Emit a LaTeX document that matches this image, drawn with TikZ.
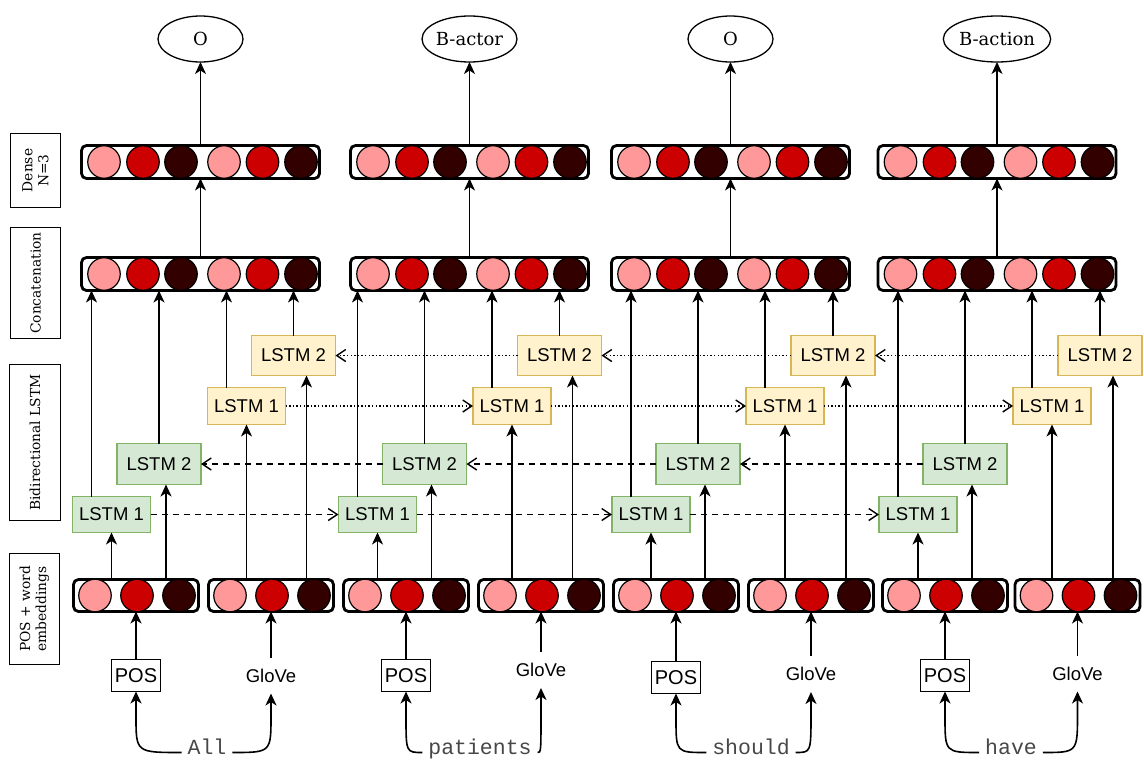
\documentclass[tikz,border=0pt]{standalone}
\usepackage{fontspec}
\setmainfont{DejaVu Serif}
\newfontfamily\lsans{Liberation Sans}
\newfontfamily\lmono{Liberation Mono}
\usetikzlibrary{arrows.meta,shapes.geometric,calc}

\definecolor{gfill}{HTML}{D5E8D4}
\definecolor{gline}{HTML}{82B366}
\definecolor{yfill}{HTML}{FFF2CC}
\definecolor{yline}{HTML}{D6B656}
\definecolor{cpink}{HTML}{FF9999}
\definecolor{cred}{HTML}{CC0000}
\definecolor{cdark}{HTML}{330000}

\tikzset{
  every node/.style={inner sep=0pt, outer sep=0pt},
  lstmfont/.style={font=\lsans\fontsize{18.5}{20}\selectfont},
  gone/.style={draw=gline, fill=gfill, line width=1.4pt, minimum width=78, minimum height=36, lstmfont},
  gtwo/.style={draw=gline, fill=gfill, line width=1.4pt, minimum width=84, minimum height=41, lstmfont},
  yone/.style={draw=yline, fill=yfill, line width=1.4pt, minimum width=78, minimum height=37, lstmfont},
  ytwo/.style={draw=yline, fill=yfill, line width=1.4pt, minimum width=84, minimum height=40, lstmfont},
  vec/.style={draw, rounded corners=5pt, line width=2.8pt, minimum width=238, minimum height=33},
  emb/.style={draw, rounded corners=5pt, line width=2.8pt, minimum width=125, minimum height=32},
  circ/.style={circle, draw, line width=1.2pt, minimum size=32.5, fill=#1},
  outlab/.style={ellipse, draw, line width=1.3pt, minimum width=85, minimum height=46,
    font=\fontsize{18}{20}\selectfont},
  sidelab/.style={draw, line width=1.3pt, rotate=90, align=center,
    font=\fontsize{13.8}{16}\selectfont},
  posbox/.style={draw, line width=1.3pt, minimum width=49, minimum height=32,
    font=\lsans\fontsize{20}{22}\selectfont},
  glovebox/.style={minimum width=60, minimum height=36, lstmfont},
  word/.style={font=\lmono\fontsize{21.5}{24}\selectfont, text=black!72,
    inner xsep=6pt, text height=0.62em, text depth=0.2em},
  arr/.style={line width=1.6pt, -{Stealth[length=12pt,width=11pt,inset=3.5pt]}},
  dashconn/.style={line width=1.4pt, dash pattern=on 6pt off 5pt,
    -{Straight Barb[length=9pt,width=12pt,line width=1.4pt]}},
  dotconn/.style={line width=1.4pt, dash pattern=on 1.4pt off 2.2pt,
    -{Straight Barb[length=9pt,width=12pt,line width=1.4pt]}},
}

\begin{document}
\begin{tikzpicture}[x=1pt,y=-1pt]
\useasboundingbox (0,0) rectangle (1144,763);

% layer names on the left
\node[sidelab, minimum width=74, minimum height=50] (labdense) at (35.5,170.5) {Dense\\N=3};
\node[sidelab, minimum width=111, minimum height=50] (labcat) at (35.5,283) {Concatenation};
\node[sidelab, minimum width=156, minimum height=51] (lablstm) at (35,442.5) {Bidirectional LSTM};
\node[sidelab, minimum width=111, minimum height=50] (labemb) at (34.5,609) {POS + word\\embeddings};

% one column per token
\foreach \i/\c/\ga/\gb/\ya/\yb/\ea/\eb/\py/\gy/\wx/\word/\lab in {
  1/200.5/111.5/159/246.5/293.5/136/271/675.5/675.5/207/All/O,
  2/469.5/377.5/424.5/512/559.5/406/541/675.5/670/480/patients/B-actor,
  3/730.5/651/698/785/833/676/811/677.5/674/751/should/O,
  4/997/918/965/1052/1100/945/1077.5/675.5/673.5/1011/have/B-action}
{
  % output tag
  \node[outlab] (out\i) at (\c,39) {\lab};

  % dense and concatenation vectors
  \node[vec] (dense\i) at (\c,162) {};
  \node[vec] (cat\i) at (\c,274) {};
  \foreach \k/\dx/\col in {1/-96.5/cpink,2/-57.5/cred,3/-19.5/cdark,4/23.5/cpink,5/62/cred,6/100.5/cdark}{
    \node[circ=\col] (dense\i-\k) at (\c+\dx,162) {};
    \node[circ=\col] (cat\i-\k) at (\c+\dx,274) {};
  }

  % embedding vectors (POS and word)
  \node[emb] (embA\i) at (\ea,595.5) {};
  \node[emb] (embB\i) at (\eb,595.5) {};
  \foreach \k/\dx/\col in {1/-41/cpink,2/1/cred,3/43/cdark}{
    \node[circ=\col] (embA\i-\k) at (\ea+\dx,595.5) {};
    \node[circ=\col] (embB\i-\k) at (\eb+\dx,595.5) {};
  }

  % LSTM cells
  \node[gone] (ga\i) at (\ga,514.5) {LSTM 1};
  \node[gtwo] (gb\i) at (\gb,464) {LSTM 2};
  \node[yone] (ya\i) at (\ya,406) {LSTM 1};
  \node[ytwo] (yb\i) at (\yb,355.5) {LSTM 2};

  % inputs
  \node[posbox] (pos\i) at (\ea,\py) {POS};
  \node[glovebox] (glove\i) at (\eb,\gy) {GloVe};
  \node[word] (word\i) at (\wx,752.5) {\word};

  % word to features
  \draw[arr] (word\i.west) .. controls (pos\i.south |- word\i.west) .. ($(pos\i.south)+(0,25)$) -- (pos\i.south);
  \draw[arr] (word\i.east) .. controls (glove\i.south |- word\i.east) .. ($(glove\i.south)+(0,22)$) -- (glove\i.south);
  \draw[arr] (pos\i.north) -- (pos\i |- embA\i.south);
  \draw[arr] (glove\i.north) -- (glove\i |- embB\i.south);

  % embeddings into the LSTM cells
  \coordinate (gbin\i) at ([xshift=7pt]gb\i.south);
  \coordinate (ybin\i) at ([xshift=13pt]yb\i.south);
  \draw[arr] (ga\i |- embA\i.north) -- (ga\i.south);
  \draw[arr] (gbin\i |- embA\i.north) -- (gbin\i);
  \draw[arr] (ya\i |- embB\i.north) -- (ya\i.south);
  \draw[arr] (ybin\i |- embB\i.north) -- (ybin\i);

  % LSTM outputs into the concatenation
  \coordinate (gaout\i) at ([xshift=-20pt]ga\i.north);
  \coordinate (yaout\i) at ([xshift=-20pt]ya\i.north);
  \draw[arr] (gaout\i) -- (gaout\i |- cat\i.south);
  \draw[arr] (gb\i.north) -- (gb\i.north |- cat\i.south);
  \draw[arr] (yaout\i) -- (yaout\i |- cat\i.south);
  \draw[arr] (yb\i.north) -- (yb\i.north |- cat\i.south);

  % upper layers
  \draw[arr] (cat\i.north) -- (dense\i.south);
  \draw[arr] (dense\i.north) -- (out\i.south);
}

% recurrent connections between neighbouring tokens
\foreach \i/\j in {1/2,2/3,3/4}{
  \draw[dashconn] (ga\i.east) -- (ga\j.west);
  \draw[dashconn] (gb\j.west) -- (gb\i.east);
  \draw[dotconn] (ya\i.east) -- (ya\j.west);
  \draw[dotconn] (yb\j.west) -- (yb\i.east);
}
\end{tikzpicture}
\end{document}
